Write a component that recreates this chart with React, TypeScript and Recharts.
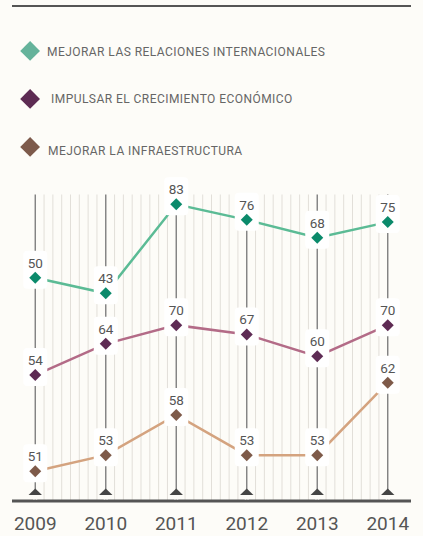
import React from 'react';
import { LineChart, Line, XAxis, YAxis, CartesianGrid } from 'recharts';

const years = [2009, 2010, 2011, 2012, 2013, 2014];
const relaciones = [50, 43, 83, 76, 68, 75];
const crecimiento = [54, 64, 70, 67, 60, 70];
const infraestructura = [51, 53, 58, 53, 53, 62];

const seriesNames = [
  'MEJORAR LAS RELACIONES INTERNACIONALES',
  'IMPULSAR EL CRECIMIENTO ECONÓMICO',
  'MEJORAR LA INFRAESTRUCTURA',
];

const BG = '#fdfcf8';
const FONT = 'Roboto, "Noto Sans", sans-serif';

const stripeStep = 1 / 8;
const stripeTicks: number[] = [];
for (let k = 1; k < (years[years.length - 1] - years[0]) / stripeStep; k++) {
  if (k % 8 !== 0) stripeTicks.push(years[0] + k * stripeStep);
}

const data = years.map((y, i) => ({
  year: y,
  relaciones: relaciones[i],
  crecimiento: crecimiento[i],
  infraestructura: infraestructura[i],
}));

const makeDot = (color: string) => (props: any) => {
  const { cx, cy, value, index } = props;
  if (cx == null || cy == null) return <g key={`n${index}`} />;
  const r = 6;
  return (
    <g key={`d${index}`}>
      <rect x={cx - 12} y={cy - 27} width={24} height={38} rx={4} fill="#ffffff" />
      <text
        x={cx}
        y={cy - 15}
        textAnchor="middle"
        dominantBaseline="central"
        fontSize={13.5}
        fill="#555"
        fontFamily={FONT}
      >
        {value}
      </text>
      <path d={`M${cx},${cy - r} L${cx + r},${cy} L${cx},${cy + r} L${cx - r},${cy} Z`} fill={color} />
    </g>
  );
};

const YearTick = (props: any) => {
  const { x, y, payload } = props;
  return (
    <g>
      <rect x={x - 2} y={y - 6} width={4} height={4.5} fill={BG} />
      <path d={`M${x},${y - 12.5} L${x + 6.7},${y - 6} L${x - 6.7},${y - 6} Z`} fill="#454545" />
      <text x={x} y={y + 29} textAnchor="middle" fontSize={19} fill="#555" fontFamily={FONT}>
        {payload.value}
      </text>
    </g>
  );
};

const legendColors = ['#65b39b', '#5d2b53', '#7d5a4b'];
const legendTops = [51.5, 99, 147];
const legendTextLeft = [47, 51, 48];
const legendTextCenter = [51.5, 99, 151];

export default function App() {
  return (
    <div
      style={{
        position: 'absolute',
        left: 0,
        top: 0,
        width: 423,
        height: 536,
        background: BG,
        overflow: 'hidden',
        fontFamily: FONT,
      }}
    >
      <div style={{ position: 'absolute', left: 12, top: 5, width: 399, height: 2, background: '#555' }} />
      {seriesNames.map((name, i) => (
        <React.Fragment key={name}>
          <div
            style={{
              position: 'absolute',
              left: 30 - 7.1,
              top: legendTops[i] - 7.1,
              width: 14.2,
              height: 14.2,
              background: legendColors[i],
              transform: 'rotate(45deg)',
            }}
          />
          <div
            style={{
              position: 'absolute',
              left: legendTextLeft[i],
              top: legendTextCenter[i] - 8,
              height: 16,
              lineHeight: '16px',
              fontSize: 12,
              letterSpacing: 0.45,
              color: '#666',
              whiteSpace: 'nowrap',
            }}
          >
            {name}
          </div>
        </React.Fragment>
      ))}
      <div style={{ position: 'absolute', left: 0, top: 0 }}>
        <LineChart
          width={423}
          height={536}
          data={data}
          margin={{ top: 194.5, right: 12, bottom: 0, left: 12 }}
        >
          <XAxis
            xAxisId="grid"
            dataKey="year"
            type="number"
            domain={[2008.67, 2014.33]}
            ticks={stripeTicks}
            interval={0}
            hide
          />
          <YAxis yAxisId="g" type="number" domain={[-50.3, 87.4]} hide />
          <YAxis yAxisId="p" type="number" domain={[13.6, 111.9]} hide />
          <YAxis yAxisId="o" type="number" domain={[47.3, 85.4]} hide />
          <CartesianGrid
            xAxisId="grid"
            yAxisId="g"
            horizontal={false}
            vertical
            syncWithTicks
            stroke="#e2dfd9"
            strokeWidth={1}
          />
          <CartesianGrid
            yAxisId="g"
            horizontal={false}
            vertical
            syncWithTicks
            stroke="#7f7f7f"
            strokeWidth={1.4}
          />
          <XAxis
            dataKey="year"
            type="number"
            domain={[2008.67, 2014.33]}
            ticks={years}
            interval={0}
            height={35}
            tickLine={false}
            tickSize={0}
            tickMargin={0}
            axisLine={{ stroke: '#555', strokeWidth: 3 }}
            tick={<YearTick />}
          />
          <Line yAxisId="g" dataKey="relaciones" stroke="#5bbb95" strokeWidth={2.5} dot={false} isAnimationActive={false} />
          <Line yAxisId="p" dataKey="crecimiento" stroke="#b36b87" strokeWidth={2.5} dot={false} isAnimationActive={false} />
          <Line yAxisId="o" dataKey="infraestructura" stroke="#d4a37f" strokeWidth={2.5} dot={false} isAnimationActive={false} />
          <Line yAxisId="g" dataKey="relaciones" stroke="none" dot={makeDot('#0b8a6b')} activeDot={false} isAnimationActive={false} />
          <Line yAxisId="p" dataKey="crecimiento" stroke="none" dot={makeDot('#5e2b54')} activeDot={false} isAnimationActive={false} />
          <Line yAxisId="o" dataKey="infraestructura" stroke="none" dot={makeDot('#7e5a49')} activeDot={false} isAnimationActive={false} />
        </LineChart>
      </div>
    </div>
  );
}
